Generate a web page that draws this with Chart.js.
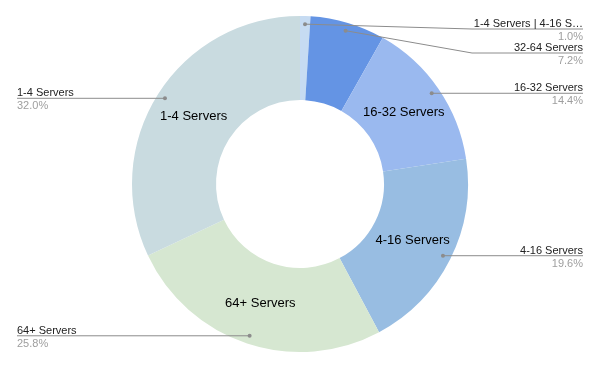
<!DOCTYPE html>
<html>
<head>
<meta charset="utf-8">
<script src="https://cdn.jsdelivr.net/npm/chart.js@4"></script>
<style>
  html, body { margin: 0; padding: 0; background: #fff; }
  #wrap { width: 600px; height: 369px; }
</style>
</head>
<body>
<div id="wrap"><canvas id="myChart"></canvas></div>
<script>
const labels = [
  "1-4 Servers | 4-16 S…",
  "32-64 Servers",
  "16-32 Servers",
  "4-16 Servers",
  "64+ Servers",
  "1-4 Servers",
];
const values = [1.0, 7.2, 14.4, 19.6, 25.8, 32.0];
const colors = ["#c6dbf2", "#6494e4", "#9ab9ef", "#98bde2", "#d6e7d1", "#c9dbe0"];

// draws the slice names inside the ring and the callouts with leader lines
const calloutPlugin = {
  id: "callouts",
  afterDatasetsDraw(chart) {
    const ctx = chart.ctx;
    const arcs = chart.getDatasetMeta(0).data;
    const total = values.reduce((a, b) => a + b, 0);
    const left = [];
    const right = [];

    arcs.forEach((arc, i) => {
      const mid = (arc.startAngle + arc.endAngle) / 2;
      const r = arc.outerRadius * 0.952;
      const dx = arc.x + Math.cos(mid) * r;
      const dy = arc.y + Math.sin(mid) * r;
      const item = { i, dx, dy, y: dy, cx: arc.x };
      if (dx >= arc.x) right.push(item); else left.push(item);

      // inner label for slices big enough
      if (values[i] / total > 0.1) {
        const rm = (arc.innerRadius + arc.outerRadius) / 2;
        ctx.save();
        ctx.font = "13px 'Liberation Sans', Arial, sans-serif";
        ctx.fillStyle = "#000";
        ctx.textAlign = "center";
        ctx.textBaseline = "middle";
        ctx.fillText(labels[i], arc.x + Math.cos(mid) * rm, arc.y + Math.sin(mid) * rm);
        ctx.restore();
      }
    });

    [left, right].forEach(side => {
      side.sort((a, b) => a.dy - b.dy);
      let prev = 5;
      side.forEach(it => {
        it.y = Math.max(it.dy, prev + 24);
        prev = it.y;
      });
    });

    const drawSide = (side, isRight) => {
      side.forEach(it => {
        const edge = isRight ? 583 : 17;
        const elbow = isRight ? 472 : 128;
        ctx.save();
        ctx.strokeStyle = "#8c8c8c";
        ctx.lineWidth = 1;
        ctx.beginPath();
        ctx.moveTo(it.dx, it.dy);
        if (Math.abs(it.y - it.dy) > 1) ctx.lineTo(elbow, it.y);
        ctx.lineTo(edge, it.y);
        ctx.stroke();
        ctx.fillStyle = "#8c8c8c";
        ctx.beginPath();
        ctx.arc(it.dx, it.dy, 2, 0, Math.PI * 2);
        ctx.fill();

        ctx.font = "11px 'Liberation Sans', Arial, sans-serif";
        ctx.textAlign = isRight ? "right" : "left";
        ctx.textBaseline = "alphabetic";
        ctx.fillStyle = "#222";
        ctx.fillText(labels[it.i], edge, it.y - 2);
        ctx.fillStyle = "#9e9e9e";
        ctx.fillText(values[it.i].toFixed(1) + "%", edge, it.y + 11);
        ctx.restore();
      });
    };
    drawSide(left, false);
    drawSide(right, true);
  },
};

new Chart(document.getElementById("myChart"), {
  type: "doughnut",
  data: {
    labels: labels,
    datasets: [
      {
        data: values,
        backgroundColor: colors,
        borderWidth: 0,
      },
    ],
  },
  options: {
    responsive: true,
    maintainAspectRatio: false,
    animation: false,
    cutout: "50%",
    layout: { padding: { top: 16, bottom: 17 } },
    plugins: {
      legend: { display: false },
      tooltip: { enabled: false },
    },
  },
  plugins: [calloutPlugin],
});
</script>
</body>
</html>
